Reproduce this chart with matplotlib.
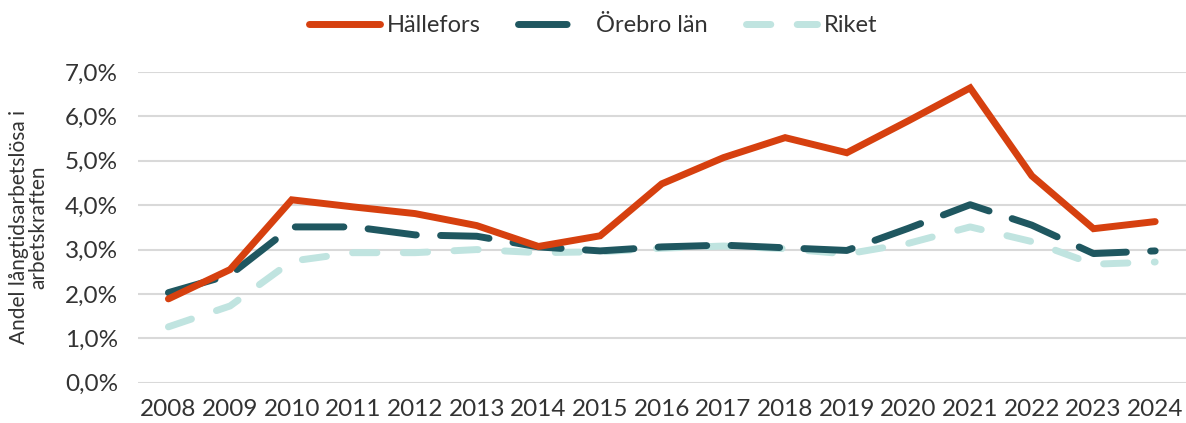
import matplotlib
matplotlib.use("Agg")
import matplotlib.pyplot as plt
from matplotlib.ticker import FuncFormatter

plt.rcParams['font.family'] = ['Lato', 'DejaVu Sans']

years = [str(y) for y in range(2008, 2025)]

# andel långtidsarbetslösa (%)
hallefors = [1.89, 2.55, 4.12, 3.96, 3.81, 3.54, 3.07, 3.31, 4.48, 5.07, 5.52, 5.18, 5.90, 6.64, 4.66, 3.47, 3.63]
orebro = [2.03, 2.43, 3.51, 3.51, 3.33, 3.30, 3.06, 2.97, 3.06, 3.10, 3.04, 2.98, 3.48, 4.01, 3.55, 2.91, 2.97]
riket = [1.26, 1.73, 2.74, 2.93, 2.93, 3.00, 2.93, 2.95, 3.03, 3.08, 3.02, 2.90, 3.14, 3.51, 3.18, 2.67, 2.72]

fig = plt.figure(figsize=(11.86, 4.23), dpi=100)
ax = fig.add_axes([0.116, 0.095, 0.884, 0.735])

x = range(len(years))
ax.plot(x, [v / 100 for v in hallefors], color='#D6400F', lw=5, solid_capstyle='round',
        solid_joinstyle='miter', label='Hällefors', zorder=3)
ax.plot(x, [v / 100 for v in orebro], color='#1F5760', lw=5, dashes=(7, 3.5),
        dash_capstyle='round', label='Örebro län', zorder=2)
ax.plot(x, [v / 100 for v in riket], color='#C0E4E0', lw=5, dashes=(3.5, 3.8),
        dash_capstyle='round', label='Riket', zorder=1)

ax.set_xlim(-0.5, len(years) - 0.5)
ax.set_ylim(0, 0.07)
ax.set_yticks([i / 100 for i in range(8)])
ax.yaxis.set_major_formatter(FuncFormatter(lambda v, p: f"{v*100:.1f}%".replace('.', ',')))
ax.set_xticks(list(x))
ax.set_xticklabels(years)
ax.grid(axis='y', color='#D9D9D9', lw=1.5)
ax.set_axisbelow(True)
for s in ax.spines.values():
    s.set_visible(False)
ax.tick_params(axis='y', length=0, labelsize=17.5, labelcolor='#333333', pad=14)
ax.tick_params(axis='x', length=0, labelsize=17.5, labelcolor='#333333', pad=12)

ax.set_ylabel('Andel långtidsarbetslösa i\narbetskraften', fontsize=15, color='#333333',
              labelpad=12, linespacing=0.95)

fig.legend(loc='center', bbox_to_anchor=(0.5, 0.94), ncol=3, frameon=False,
           fontsize=17, handlelength=3.0, columnspacing=1.6, handletextpad=0.3,
           labelcolor='#333333')

fig.savefig('out.png', dpi=100)
